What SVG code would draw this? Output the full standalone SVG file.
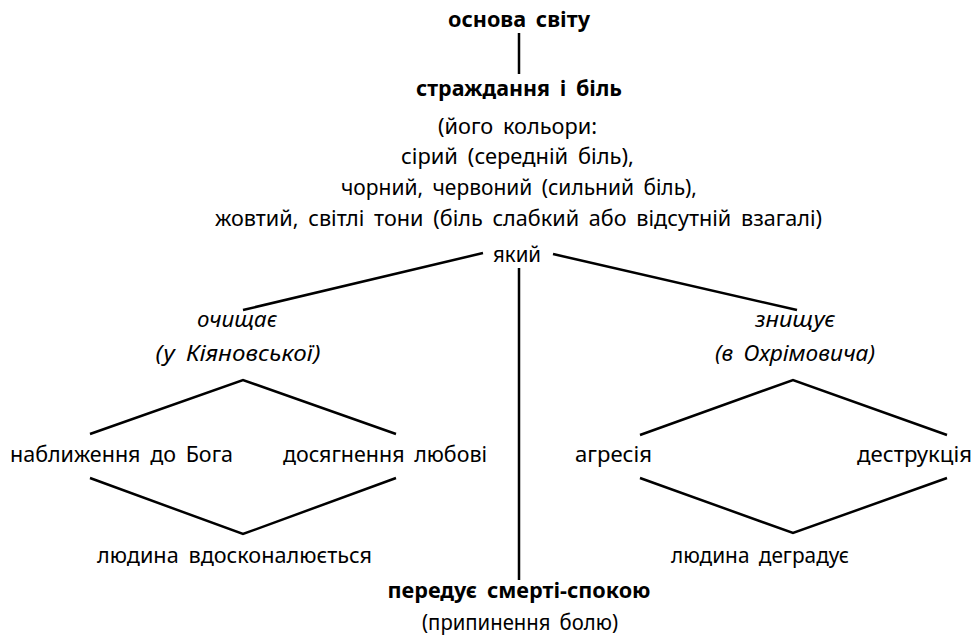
<svg xmlns="http://www.w3.org/2000/svg" width="976" height="639" viewBox="0 0 976 639">
  <style>
    text { font-family: "Noto Sans", "DejaVu Sans", sans-serif; font-size: 21px; fill: #000; text-anchor: middle; word-spacing: 4px; }
    .b { font-weight: bold; }
    .i { font-style: italic; }
    .l { text-anchor: start; }
    #connectors line, #connectors polyline { stroke: #000; stroke-width: 2.5; fill: none; }
  </style>
  <rect width="976" height="639" fill="#fff"/>

  <g id="connectors">
    <line x1="519" y1="33" x2="519" y2="74"/>
    <line x1="483" y1="253" x2="243" y2="310"/>
    <line x1="553" y1="254" x2="797" y2="310"/>
    <line x1="519" y1="268" x2="519" y2="580"/>
    <polyline points="90,434 243,380 396,434"/>
    <polyline points="90,478 243,534 396,478"/>
    <polyline points="640,435 793,380 947,435"/>
    <polyline points="640,478 793,533 947,478"/>
  </g>

  <g id="root"><text class="b" x="519" y="27" textLength="142" lengthAdjust="spacingAndGlyphs">основа світу</text></g>
  <g id="pain">
    <text class="b" x="519" y="96" textLength="206" lengthAdjust="spacingAndGlyphs">страждання і біль</text>
    <text x="517.5" y="134" textLength="159" lengthAdjust="spacingAndGlyphs">(його кольори:</text>
    <text x="517.5" y="164" textLength="233" lengthAdjust="spacingAndGlyphs">сірий (середній біль),</text>
    <text x="519" y="195" textLength="356" lengthAdjust="spacingAndGlyphs">чорний, червоний (сильний біль),</text>
    <text x="518.5" y="226" textLength="607" lengthAdjust="spacingAndGlyphs">жовтий, світлі тони (біль слабкий або відсутній взагалі)</text>
  </g>
  <g id="which"><text x="517" y="262" textLength="48" lengthAdjust="spacingAndGlyphs">який</text></g>
  <g id="cleanses">
    <text class="i" x="237" y="327" textLength="80" lengthAdjust="spacingAndGlyphs">очищає</text>
    <text class="i" x="238" y="361" textLength="165" lengthAdjust="spacingAndGlyphs">(у Кіяновської)</text>
  </g>
  <g id="destroys">
    <text class="i" x="795" y="327" textLength="80" lengthAdjust="spacingAndGlyphs">знищує</text>
    <text class="i" x="795" y="361" textLength="160" lengthAdjust="spacingAndGlyphs">(в Охрімовича)</text>
  </g>
  <g id="god"><text class="l" x="10" y="462" textLength="223" lengthAdjust="spacingAndGlyphs">наближення до Бога</text></g>
  <g id="love"><text class="l" x="283" y="462" textLength="204" lengthAdjust="spacingAndGlyphs">досягнення любові</text></g>
  <g id="aggression"><text class="l" x="575" y="462" textLength="77" lengthAdjust="spacingAndGlyphs">агресія</text></g>
  <g id="destruction"><text class="l" x="857" y="462" textLength="115" lengthAdjust="spacingAndGlyphs">деструкція</text></g>
  <g id="perfects"><text class="l" x="97" y="563" textLength="275" lengthAdjust="spacingAndGlyphs">людина вдосконалюється</text></g>
  <g id="degrades"><text class="l" x="671" y="563" textLength="178" lengthAdjust="spacingAndGlyphs">людина деградує</text></g>
  <g id="death">
    <text class="b" x="519" y="598" textLength="263" lengthAdjust="spacingAndGlyphs">передує смерті-спокою</text>
    <text x="520" y="630" textLength="196" lengthAdjust="spacingAndGlyphs">(припинення болю)</text>
  </g>
</svg>
